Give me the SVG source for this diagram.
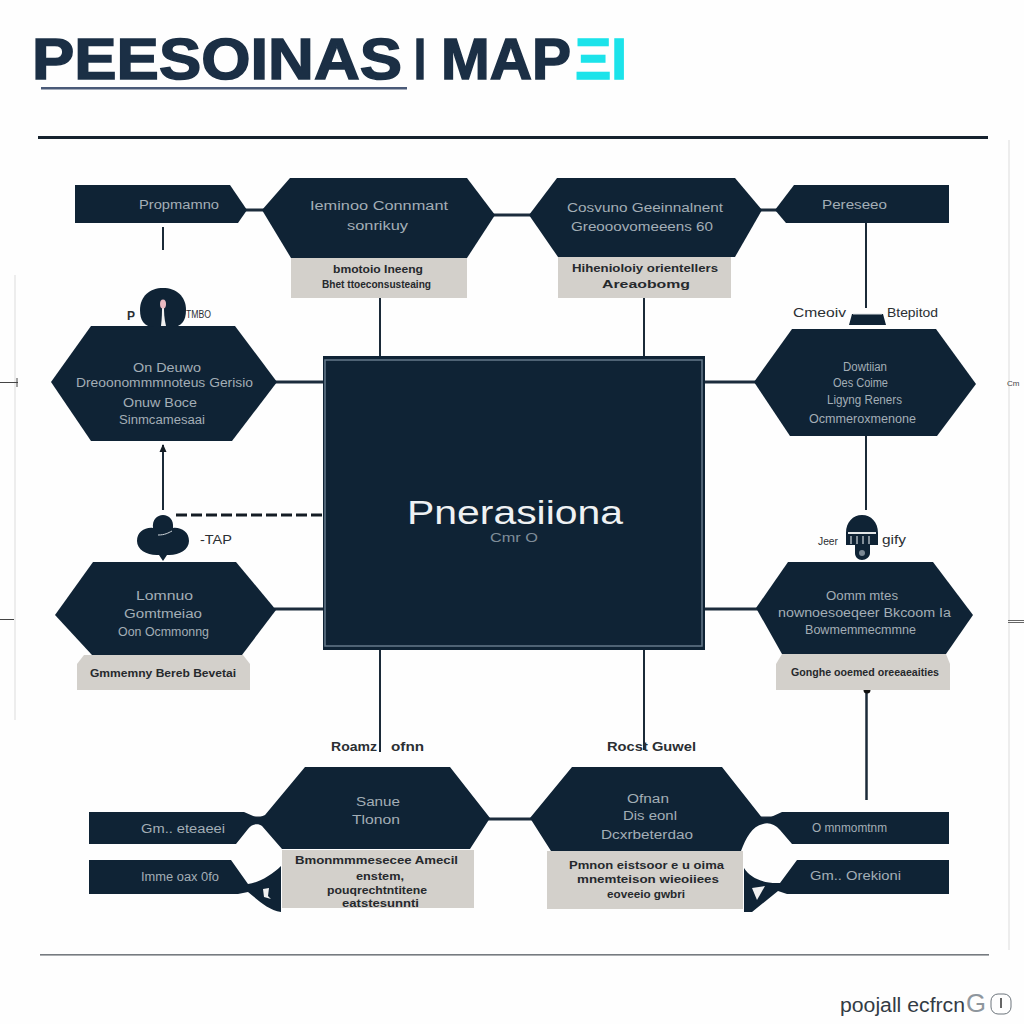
<svg xmlns="http://www.w3.org/2000/svg" width="1024" height="1024" viewBox="0 0 1024 1024">
<style>
text{font-family:"Liberation Sans",Arial,sans-serif}
.n{fill:#0f2335}
.b{fill:#d3d0cb}
.l{font-size:12px;fill:#a3aeb6}
.k{font-size:11px;fill:#26292d;font-weight:bold}
.m{font-size:13px;fill:#2b2f33}
.c{stroke:#1b2a38;stroke-width:2;fill:none}
.j{stroke:#1c2c3c;stroke-width:3;fill:none}
.g{stroke:#dcdcdc;stroke-width:1;fill:none}
.h{font-size:58px;font-weight:bold;fill:#1b2f45;stroke:#1b2f45;stroke-width:1.500}
</style>
<defs>
<marker id="a" markerUnits="userSpaceOnUse" markerWidth="8" markerHeight="8" refX="7" refY="4" orient="auto"><path d="M0 0.500L8 4L0 7.500z" fill="#141c24"/></marker>
</defs>
<rect width="1024" height="1024" fill="#fefefe"/>
<g id="title">
<text class="h" x="32" y="79" textLength="370" lengthAdjust="spacingAndGlyphs">PEESOINAS</text>
<text class="h" x="414" y="79" textLength="12" lengthAdjust="spacingAndGlyphs">I</text>
<text class="h" x="441" y="79" textLength="130" lengthAdjust="spacingAndGlyphs">MAP</text>
<text class="h" x="575" y="79" textLength="52" lengthAdjust="spacingAndGlyphs" style="fill:#1ce3ea;stroke:#1ce3ea">ΞI</text>
<rect x="41" y="87" width="366" height="2.500" fill="#4a5a78"/>
</g>
<g id="frame">
<rect x="38" y="136" width="950" height="3" fill="#16222e"/>
<rect x="40" y="954" width="949" height="1.600" fill="#767b80"/>
<path class="g" d="M15 275V720M1009 140V950"/>
<path d="M0 382.500H18M17 378V387M0 619.500H14" stroke="#444" stroke-width="1" fill="none"/>
<path d="M1008 620.500H1024M1008 622.500H1024" stroke="#666" stroke-width="1" fill="none"/>
<text x="1007" y="386" style="font-size:8px;fill:#444">Cm</text>
</g>
<g id="connectors">
<path class="j" d="M245 210H264M493 215H531M760 210H778M275 382H325M703 382H756M274 609H325M703 609H758M488 819H532M250 818H268M761 818H785"/>
<path class="c" d="M163 227V250M866 223V308M866 436V510"/>
<path class="c" d="M380 356V297M644 356V297M163 510V445" marker-end="url(#a)"/>
<path class="c" d="M380 650V752M644 650V750"/>
<path class="c" style="stroke-width:2.500" d="M866.500 800V692"/>
<circle cx="867" cy="690" r="3.500" fill="#111"/>
<path d="M176 515H323" stroke="#141c24" stroke-width="3" stroke-dasharray="11 4" fill="none"/>
</g>
<g id="center">
<rect class="n" x="323" y="356" width="382" height="294"/>
<rect x="325" y="360" width="377" height="286" fill="#0f2335" stroke="#66798a" stroke-width="1.500"/>
<text x="407" y="524" textLength="216" lengthAdjust="spacingAndGlyphs" style="font-size:34px;fill:#eef1f3">Pnerasiiona</text>
<text x="490" y="542" textLength="48" lengthAdjust="spacingAndGlyphs" style="font-size:12px;fill:#7f8d99">Cmr O</text>
</g>
<g id="tag-top-left">
<path class="n" d="M75 185H230L247 210L238 223H75z"/>
<text class="l" x="139" y="209" textLength="80" lengthAdjust="spacingAndGlyphs">Propmamno</text>
</g>
<g id="node-top-1">
<path class="b" d="M291 258H467V298H291z"/>
<path class="n" d="M262 210L290 178H467L495 215L467 258H291z"/>
<text class="l" x="310" y="210" textLength="138" lengthAdjust="spacingAndGlyphs">Ieminoo Connmant</text>
<text class="l" x="347" y="230" textLength="61" lengthAdjust="spacingAndGlyphs">sonrikuy</text>
<text class="k" x="333" y="273" textLength="90" lengthAdjust="spacingAndGlyphs">bmotoio Ineeng</text>
<text class="k" x="322" y="288" textLength="109" lengthAdjust="spacingAndGlyphs">Bhet ttoeconsusteaing</text>
</g>
<g id="node-top-2">
<path class="b" d="M558 257H731V298H558z"/>
<path class="n" d="M529 215L557 178H735L762 210L735 257H558z"/>
<text class="l" x="567" y="212" textLength="156" lengthAdjust="spacingAndGlyphs">Cosvuno Geeinnalnent</text>
<text class="l" x="571" y="231" textLength="142" lengthAdjust="spacingAndGlyphs">Greooovomeeens 60</text>
<text class="k" x="572" y="272" textLength="146" lengthAdjust="spacingAndGlyphs">Hihenioloiy orientellers</text>
<text class="k" x="602" y="288" textLength="88" lengthAdjust="spacingAndGlyphs">Areaobomg</text>
</g>
<g id="tag-top-right">
<path class="n" d="M775 210L794 185H949V223H786z"/>
<text class="l" x="822" y="209" textLength="65" lengthAdjust="spacingAndGlyphs">Pereseeo</text>
</g>
<g id="node-left-1">
<path class="n" d="M51 382L91 326H235L277 382L232 441H91z"/>
<text class="l" x="133" y="372" textLength="68" lengthAdjust="spacingAndGlyphs">On Deuwo</text>
<text class="l" x="76" y="387" textLength="177" lengthAdjust="spacingAndGlyphs">Dreoonommmnoteus Gerisio</text>
<text class="l" x="123" y="407" textLength="74" lengthAdjust="spacingAndGlyphs">Onuw Boce</text>
<text class="l" x="119" y="424" textLength="86" lengthAdjust="spacingAndGlyphs">Sinmcamesaai</text>
<path class="n" d="M140 310C140 296 150 288 163 288C176 288 186 296 186 310C186 320 182 327 172 327H154C144 327 140 320 140 310z"/>
<path d="M161 326C162 318 162 312 162 306H164C164 312 164 318 166 326z" fill="#f1f1f1"/>
<ellipse cx="163" cy="304" rx="3" ry="4.500" fill="#eab9c0"/>
<text class="m" x="127" y="320" font-weight="bold" textLength="8" lengthAdjust="spacingAndGlyphs">P</text>
<text x="186" y="318" textLength="25" lengthAdjust="spacingAndGlyphs" style="font-size:10px;fill:#2b2f33">TMBO</text>
</g>
<g id="node-right-1">
<path class="n" d="M754 382L792 329H936L976 384L937 436H790z"/>
<text class="l" x="843" y="371" textLength="44" lengthAdjust="spacingAndGlyphs">Dowtiian</text>
<text class="l" x="833" y="387" textLength="55" lengthAdjust="spacingAndGlyphs">Oes Coime</text>
<text class="l" x="827" y="404" textLength="75" lengthAdjust="spacingAndGlyphs">Ligyng Reners</text>
<text class="l" x="809" y="423" textLength="107" lengthAdjust="spacingAndGlyphs">Ocmmeroxmenone</text>
<path class="n" d="M852 314H883L886 325H849z"/>
<path d="M853 314H882" stroke="#dfe3e6" stroke-width="1"/>
<text class="m" x="793" y="317" textLength="53" lengthAdjust="spacingAndGlyphs">Cmeoiv</text>
<text class="m" x="887" y="317" textLength="51" lengthAdjust="spacingAndGlyphs">Btepitod</text>
</g>
<g id="node-left-2">
<path class="b" d="M84 655H243L250 664V690H77V664z"/>
<path class="n" d="M55 615L93 562H236L276 610L242 655H92z"/>
<text class="l" x="136" y="600" textLength="57" lengthAdjust="spacingAndGlyphs">Lomnuo</text>
<text class="l" x="124" y="618" textLength="78" lengthAdjust="spacingAndGlyphs">Gomtmeiao</text>
<text class="l" x="118" y="636" textLength="91" lengthAdjust="spacingAndGlyphs">Oon Ocmmonng</text>
<text class="k" x="90" y="677" textLength="146" lengthAdjust="spacingAndGlyphs">Gmmemny Bereb Bevetai</text>
<path class="n" d="M163 561L159 555C148 556 137 550 137 541C137 532 145 527 153 528C152 520 157 515 163 515C169 515 174 520 173 528C181 527 189 532 189 541C189 550 178 556 167 555z"/>
<path d="M158 535C165 535 168 533 172 531" stroke="#d0d6db" stroke-width="1" fill="none"/>
<text class="m" x="200" y="544" textLength="32" lengthAdjust="spacingAndGlyphs">-TAP</text>
</g>
<g id="node-right-2">
<path class="b" d="M782 654H946L950 664V690H776V664z"/>
<path class="n" d="M756 608L788 562H933L973 615L946 654H782z"/>
<text class="l" x="826" y="600" textLength="72" lengthAdjust="spacingAndGlyphs">Oomm mtes</text>
<text class="l" x="778" y="617" textLength="173" lengthAdjust="spacingAndGlyphs">nownoesoeqeer Bkcoom Ia</text>
<text class="l" x="805" y="634" textLength="111" lengthAdjust="spacingAndGlyphs">Bowmemmecmmne</text>
<text class="k" x="791" y="676" textLength="148" lengthAdjust="spacingAndGlyphs">Gonghe ooemed oreeaeaities</text>
<path class="n" d="M846 533C846 522 853 515 862 515C871 515 878 522 878 533V545H870V553C870 557 866 560 862 560C858 560 855 557 855 553V545H846z"/>
<path d="M848 533H876" stroke="#e3e6e8" stroke-width="2"/>
<path d="M851 536V544M857 536V544M863 536V544M869 536V544" stroke="#a9b3bb" stroke-width="1.500"/>
<circle cx="862" cy="553" r="3" fill="#7b8894"/>
<text x="818" y="545" textLength="20" lengthAdjust="spacingAndGlyphs" style="font-size:11px;fill:#2b2f33">Jeer</text>
<text class="m" x="882" y="544" textLength="24" lengthAdjust="spacingAndGlyphs">gify</text>
</g>
<g id="node-bottom-1">
<path class="n" d="M89 812H244L258 818L265 815L305 767H450L490 818L470 849H282L262 826C258 823 252 824 248 829L236 844H89z"/>
<path class="n" d="M89 860H231L248 884C258 883 272 875 281 866V912C268 910 258 900 248 892L238 894H89z"/>
<path class="b" d="M282 850H474V908H282z"/>
<path d="M263 889L269 888L268 896L271 899L264 897z" fill="#f1f1f1"/>
<text class="l" x="356" y="806" textLength="44" lengthAdjust="spacingAndGlyphs">Sanue</text>
<text class="l" x="352" y="824" textLength="48" lengthAdjust="spacingAndGlyphs">Tlonon</text>
<text class="l" x="141" y="833" textLength="84" lengthAdjust="spacingAndGlyphs">Gm.. eteaeei</text>
<text class="l" x="141" y="881" textLength="78" lengthAdjust="spacingAndGlyphs">Imme oax 0fo</text>
<text class="k" x="295" y="864" textLength="163" lengthAdjust="spacingAndGlyphs">Bmonmmmesecee Amecil</text>
<text class="k" x="356" y="880" textLength="48" lengthAdjust="spacingAndGlyphs">enstem,</text>
<text class="k" x="327" y="894" textLength="100" lengthAdjust="spacingAndGlyphs">pouqrechtntitene</text>
<text class="k" x="342" y="907" textLength="77" lengthAdjust="spacingAndGlyphs">eatstesunnti</text>
<text class="m" x="331" y="751" font-weight="bold" textLength="46" lengthAdjust="spacingAndGlyphs">Roamz</text>
<text class="m" x="391" y="751" font-weight="bold" textLength="33" lengthAdjust="spacingAndGlyphs">ofnn</text>
</g>
<g id="node-bottom-2">
<path class="n" d="M530 818L572 767H722L763 819L771 817L782 812H949V844H792L780 830C775 824 768 822 763 824C752 826 746 838 741 851H551z"/>
<path class="n" d="M797 860H949V894H787L778 891L752 912H744V868C750 878 764 884 780 883z"/>
<path class="b" d="M547 851H743V909H547z"/>
<path d="M752 888L765 886L757 900z" fill="#f1f1f1"/>
<text class="l" x="627" y="803" textLength="42" lengthAdjust="spacingAndGlyphs">Ofnan</text>
<text class="l" x="623" y="820" textLength="54" lengthAdjust="spacingAndGlyphs">Dis eonl</text>
<text class="l" x="601" y="839" textLength="92" lengthAdjust="spacingAndGlyphs">Dcxrbeterdao</text>
<text class="l" x="812" y="832" textLength="75" lengthAdjust="spacingAndGlyphs">O mnmomtnm</text>
<text class="l" x="810" y="880" textLength="91" lengthAdjust="spacingAndGlyphs">Gm.. Orekioni</text>
<text class="k" x="569" y="869" textLength="155" lengthAdjust="spacingAndGlyphs">Pmnon eistsoor e u oima</text>
<text class="k" x="577" y="883" textLength="142" lengthAdjust="spacingAndGlyphs">mnemteison wieoiiees</text>
<text class="k" x="607" y="898" textLength="78" lengthAdjust="spacingAndGlyphs">eoveeio gwbri</text>
<text class="m" x="607" y="751" font-weight="bold" textLength="89" lengthAdjust="spacingAndGlyphs">Rocst Guwel</text>
</g>
<g id="footer">
<text x="840" y="1012" textLength="125" lengthAdjust="spacingAndGlyphs" style="font-size:20px;fill:#333b44">poojall ecfrcn</text>
<text x="966" y="1012" textLength="20" lengthAdjust="spacingAndGlyphs" style="font-size:26px;fill:#8e969d;font-family:'DejaVu Sans ExtraLight','Liberation Sans',sans-serif">G</text>
<rect x="991" y="994" width="20" height="20" rx="7" fill="none" stroke="#6d757c" stroke-width="1"/>
<path d="M1001 998V1008" stroke="#333" stroke-width="1.500"/>
</g>
</svg>
